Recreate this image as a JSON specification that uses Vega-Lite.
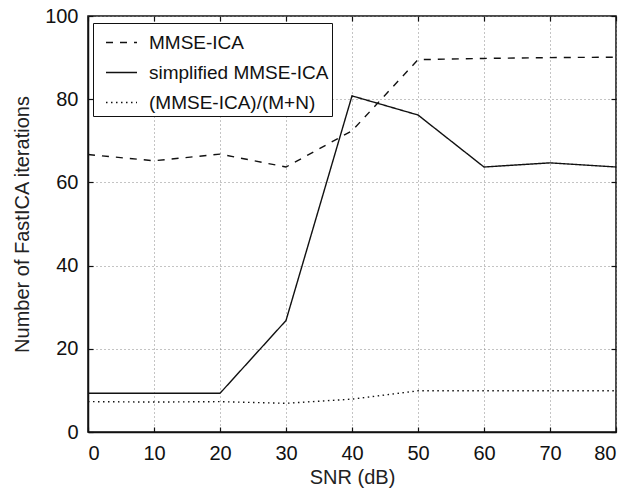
{
  "$schema": "https://vega.github.io/schema/vega-lite/v6.json",
  "width": 528,
  "height": 416,
  "autosize": {"type": "none"},
  "padding": {"left": 88, "top": 16, "right": 10, "bottom": 57},
  "background": "white",
  "config": {
    "font": "Liberation Sans",
    "view": {"stroke": "#111", "strokeWidth": 1.5},
    "axis": {
      "labelFont": "Liberation Sans",
      "titleFont": "Liberation Sans",
      "labelFontSize": 20,
      "titleFontSize": 20,
      "labelColor": "#111",
      "titleColor": "#222",
      "titleFontWeight": "normal",
      "domainColor": "#111",
      "domainWidth": 1.5,
      "tickColor": "#111",
      "tickWidth": 1.2,
      "tickSize": -5,
      "gridColor": "#888",
      "gridDash": [1, 3],
      "gridOpacity": 1,
      "gridWidth": 1
    }
  },
  "data": {
    "values": [
      {"snr": 0, "series": "MMSE-ICA", "iter": 66.7},
      {"snr": 10, "series": "MMSE-ICA", "iter": 65.2},
      {"snr": 20, "series": "MMSE-ICA", "iter": 66.8},
      {"snr": 30, "series": "MMSE-ICA", "iter": 63.7},
      {"snr": 40, "series": "MMSE-ICA", "iter": 72.4},
      {"snr": 50, "series": "MMSE-ICA", "iter": 89.5},
      {"snr": 60, "series": "MMSE-ICA", "iter": 89.8},
      {"snr": 70, "series": "MMSE-ICA", "iter": 90},
      {"snr": 80, "series": "MMSE-ICA", "iter": 90.1},
      {"snr": 0, "series": "simplified MMSE-ICA", "iter": 9.3},
      {"snr": 10, "series": "simplified MMSE-ICA", "iter": 9.3},
      {"snr": 20, "series": "simplified MMSE-ICA", "iter": 9.3},
      {"snr": 30, "series": "simplified MMSE-ICA", "iter": 26.8},
      {"snr": 40, "series": "simplified MMSE-ICA", "iter": 80.8},
      {"snr": 50, "series": "simplified MMSE-ICA", "iter": 76.2},
      {"snr": 60, "series": "simplified MMSE-ICA", "iter": 63.7},
      {"snr": 70, "series": "simplified MMSE-ICA", "iter": 64.7},
      {"snr": 80, "series": "simplified MMSE-ICA", "iter": 63.7},
      {"snr": 0, "series": "(MMSE-ICA)/(M+N)", "iter": 7.3},
      {"snr": 10, "series": "(MMSE-ICA)/(M+N)", "iter": 7.2},
      {"snr": 20, "series": "(MMSE-ICA)/(M+N)", "iter": 7.3},
      {"snr": 30, "series": "(MMSE-ICA)/(M+N)", "iter": 6.9},
      {"snr": 40, "series": "(MMSE-ICA)/(M+N)", "iter": 7.9},
      {"snr": 50, "series": "(MMSE-ICA)/(M+N)", "iter": 9.9},
      {"snr": 60, "series": "(MMSE-ICA)/(M+N)", "iter": 9.9},
      {"snr": 70, "series": "(MMSE-ICA)/(M+N)", "iter": 9.9},
      {"snr": 80, "series": "(MMSE-ICA)/(M+N)", "iter": 9.9}
    ]
  },
  "layer": [
    {
      "mark": {"type": "line", "color": "#111", "strokeWidth": 1.4},
      "encoding": {
        "x": {
          "field": "snr", "type": "quantitative",
          "scale": {"domain": [0, 80], "nice": false},
          "axis": {"values": [0,10,20,30,40,50,60,70,80], "title": "SNR (dB)", "grid": true, "labelPadding": 16, "titleY": 51, "titleBaseline": "alphabetic"}
        },
        "y": {
          "field": "iter", "type": "quantitative",
          "scale": {"domain": [0, 100], "nice": false},
          "axis": {"values": [0,20,40,60,80,100], "title": "Number of FastICA iterations", "grid": true, "labelPadding": 15, "titleX": -60, "titleY": 208, "titleBaseline": "alphabetic"}
        },
        "strokeDash": {
          "field": "series", "type": "nominal",
          "scale": {
            "domain": ["MMSE-ICA", "simplified MMSE-ICA", "(MMSE-ICA)/(M+N)"],
            "range": [[7, 7], [1, 0], [1.5, 3.5]]
          },
          "legend": {
            "title": null,
            "orient": "none",
            "legendX": 5,
            "legendY": 7,
            "symbolType": "stroke",
            "symbolSize": 961,
            "symbolStrokeWidth": 1.4,
            "symbolStrokeColor": "#111",
            "symbolOffset": 9,
            "labelFont": "Liberation Sans",
            "labelFontSize": 19,
            "labelColor": "#111",
            "fillColor": "white",
            "strokeColor": "#111",
            "padding": 3,
            "rowPadding": 3,
            "labelOffset": 11,
            "labelLimit": 400
          }
        }
      }
    },
    {
      "mark": {"type": "line", "opacity": 0},
      "encoding": {
        "x": {
          "field": "snr", "type": "quantitative",
          "scale": {"domain": [0, 80], "nice": false},
          "axis": {"orient": "top", "values": [0,10,20,30,40,50,60,70,80], "labels": false, "title": null, "grid": false, "domain": false}
        },
        "y": {
          "field": "iter", "type": "quantitative",
          "scale": {"domain": [0, 100], "nice": false},
          "axis": {"orient": "right", "values": [0,20,40,60,80,100], "labels": false, "title": null, "grid": false, "domain": false}
        },
        "detail": {"field": "series"}
      }
    }
  ],
  "resolve": {"axis": {"x": "independent", "y": "independent"}}
}
